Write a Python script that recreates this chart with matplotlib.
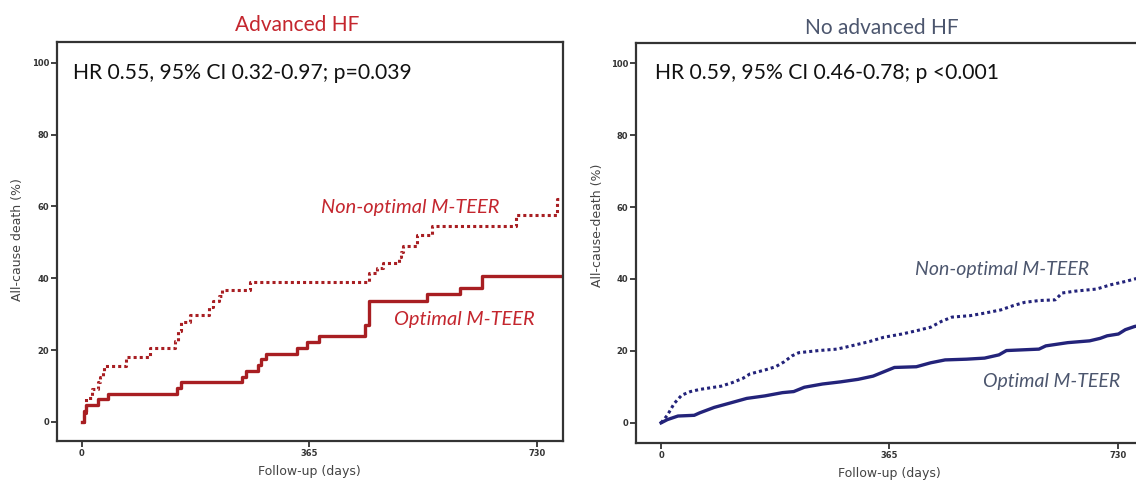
import matplotlib
matplotlib.use("Agg")
import matplotlib.pyplot as plt

# Advanced HF (left panel): step points (days, % all-cause death)
adv_opt_days = [0, 3, 7, 26, 42, 153, 159, 257, 264, 283, 287, 296, 345, 361, 381, 454, 460, 553, 606, 642, 769]
adv_opt_pct = [0, 3, 4.7, 6.3, 7.7, 9.4, 11, 12.6, 14.2, 15.9, 17.5, 19, 20.7, 22.4, 24, 27, 33.8, 35.6, 37.3, 40.7, 40.7]

adv_non_days = [0, 3, 7, 16, 25, 29, 33, 36, 71, 109, 150, 154, 159, 173, 204, 211, 220, 224, 270,
                461, 474, 483, 509, 512, 516, 538, 562, 696, 763, 766]
adv_non_pct = [0, 2.5, 6.8, 9.1, 11, 12.6, 14.2, 15.6, 18, 20.6, 22.6, 25.4, 27.7, 29.9, 32, 33.8, 35.2, 36.7, 38.9,
               41.4, 43, 44.2, 45.9, 47.3, 49.1, 52, 54.6, 57.5, 62, 62]

# No advanced HF (right panel)
noadv_opt_days = [0, 10, 27, 53, 62, 85, 108, 137, 166, 194, 212, 229, 258, 287, 315, 339, 356, 373, 408, 431,
                  454, 488, 517, 540, 552, 604, 615, 650, 685, 702, 713, 731, 742, 757, 770]
noadv_opt_pct = [0, 0.9, 1.9, 2.1, 2.8, 4.3, 5.4, 6.8, 7.5, 8.4, 8.7, 9.9, 10.8, 11.4, 12.1, 13, 14.2, 15.4, 15.6, 16.7,
                 17.5, 17.7, 18, 18.9, 20.1, 20.5, 21.4, 22.3, 22.8, 23.5, 24.2, 24.7, 25.9, 26.8, 27.2]

noadv_non_days = [0, 10, 21, 33, 47, 62, 96, 114, 131, 142, 166, 183, 197, 209, 220, 252, 281, 304, 333, 356,
                  385, 408, 431, 448, 465, 494, 517, 543, 563, 581, 604, 630, 641, 661, 696, 719, 742, 757, 770]
noadv_non_pct = [0, 2.1, 5.4, 7.7, 8.7, 9.3, 10.2, 11.2, 12.4, 13.6, 14.7, 15.6, 17, 18.6, 19.5, 20.1, 20.5, 21.4, 22.6, 23.8,
                 24.7, 25.6, 26.6, 28.2, 29.4, 29.8, 30.5, 31.4, 32.6, 33.5, 34, 34.2, 36.1, 36.6, 37.2, 38.4, 39.3, 40, 40.5]

xticks = [0, 365, 730]
yticks = [0, 20, 40, 60, 80, 100]

red = "#a81e22"
red_txt = "#c4262e"
navy = "#23237a"
slate = "#4c566e"

fig = plt.figure(figsize=(11.36, 4.82), dpi=100)
axl = fig.add_axes([0.0502, 0.0851, 0.4454, 0.8278])
axr = fig.add_axes([0.5599, 0.0809, 0.4472, 0.8299])


def style(ax, ylim):
    ax.set_xlim(-40, 772)
    ax.set_ylim(*ylim)
    ax.set_xticks(xticks)
    ax.set_yticks(yticks)
    ax.set_xticklabels([str(t) for t in xticks], fontsize=6, fontweight="bold", color="#333333")
    ax.set_yticklabels([str(t) for t in yticks], fontsize=6, fontweight="bold", color="#333333")
    ax.tick_params(length=4, width=1.3, color="#333333", pad=1.5)
    for s in ax.spines.values():
        s.set_color("#333333")
        s.set_linewidth(1.6)


style(axl, (-5.3, 105.8))
style(axr, (-5.6, 105.6))

axl.plot(adv_opt_days, adv_opt_pct, drawstyle="steps-post", color=red, lw=2.4)
axl.plot(adv_non_days, adv_non_pct, drawstyle="steps-post", color=red, lw=2.2, linestyle=(0, (1, 1)))
# many small steps in the larger cohort: drawn as a near-continuous line
axr.plot(noadv_opt_days, noadv_opt_pct, color=navy, lw=2.4)
axr.plot(noadv_non_days, noadv_non_pct, color=navy, lw=2.2, linestyle=(0, (1, 1)))

axl.text(-15, 97.2, "HR 0.55, 95% CI 0.32-0.97; p=0.039", fontsize=15.2, family="Lato",
         ha="left", va="center", color="#111111")
axr.text(-10, 97.2, "HR 0.59, 95% CI 0.46-0.78; p <0.001", fontsize=15.2, family="Lato",
         ha="left", va="center", color="#111111")

axl.text(526, 59.6, "Non-optimal M-TEER", fontsize=14.4, family="Lato", style="italic",
         color=red_txt, ha="center", va="center")
axl.text(613, 28.4, "Optimal M-TEER", fontsize=14.4, family="Lato", style="italic",
         color=red_txt, ha="center", va="center")
axr.text(545, 42.5, "Non-optimal M-TEER", fontsize=14, family="Lato", style="italic",
         color=slate, ha="center", va="center")
axr.text(625, 11.4, "Optimal M-TEER", fontsize=14, family="Lato", style="italic",
         color=slate, ha="center", va="center")

fig.text(297 / 1136, 1 - 25 / 482, "Advanced HF", fontsize=15, family="Lato",
         color=red_txt, ha="center", va="center")
fig.text(882 / 1136, 1 - 28 / 482, "No advanced HF", fontsize=15, family="Lato",
         color=slate, ha="center", va="center")

fig.text(18 / 1136, 1 - 240 / 482, "All-cause death (%)", fontsize=9, rotation=90,
         color="#444444", ha="center", va="center")
fig.text(598 / 1136, 1 - 225 / 482, "All-cause-death (%)", fontsize=9, rotation=90,
         color="#444444", ha="center", va="center")
fig.text(309 / 1136, 1 - 472 / 482, "Follow-up (days)", fontsize=9,
         color="#444444", ha="center", va="center")
fig.text(889 / 1136, 1 - 474 / 482, "Follow-up (days)", fontsize=9,
         color="#444444", ha="center", va="center")

fig.savefig("out.png", dpi=100)
